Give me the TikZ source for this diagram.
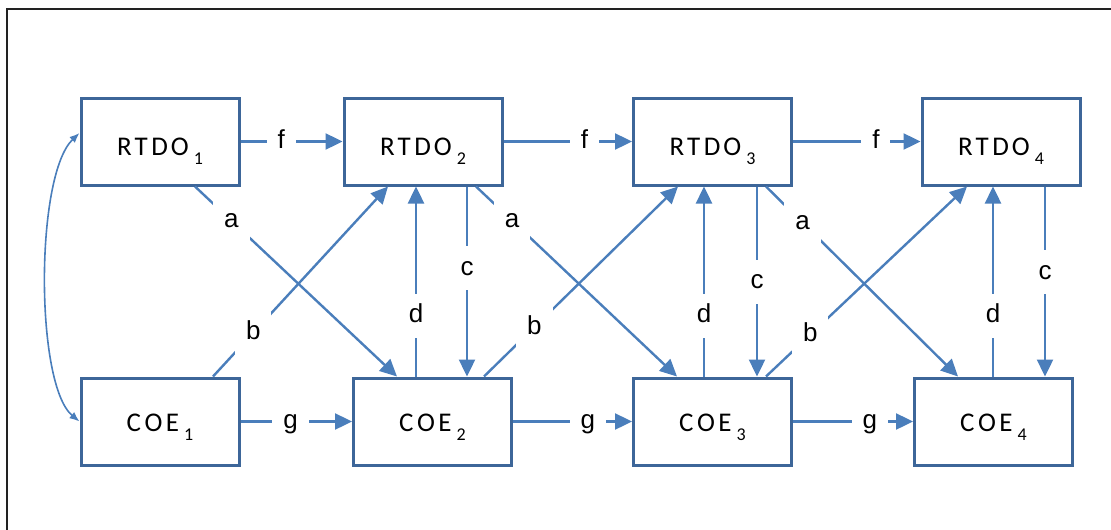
\documentclass[tikz,border=0pt]{standalone}
\usepackage{fontspec}
\setmainfont{Liberation Sans}
\newfontfamily\boxfont{Carlito}
\usetikzlibrary{arrows.meta,calc}
\definecolor{linkblue}{HTML}{4A7EBB}
\definecolor{edgeblue}{HTML}{3D6699}
\definecolor{framegray}{HTML}{222222}

% spaced capitals with a lowered index
\newcommand\idx[1]{\kern5pt\raisebox{-8.5pt}{\fontsize{18}{18}\selectfont #1}}
\newcommand\rtdo[1]{R\kern3pt T\kern3.5pt D\kern3pt O\idx{#1}}
\newcommand\coe[1]{C\kern3.5pt O\kern3.5pt E\idx{#1}}

\begin{document}
\begin{tikzpicture}[x=1pt,y=-1pt,
  statebox/.style={draw=edgeblue, line width=3pt, fill=white,
    minimum width=158pt, minimum height=87pt, inner sep=0pt,
    text depth=0pt, font=\boxfont\fontsize{27}{30}\selectfont},
  rbox/.style={statebox, text height=28pt},
  cbox/.style={statebox, text height=20pt},
  conn/.style={draw=linkblue, line width=2.4pt,
    -{Triangle[length=17pt,width=16pt]}},
  lbl/.style={fill=white, inner xsep=11pt, inner ysep=10pt,
    text height=19pt, text depth=5pt, text=black,
    font=\fontsize{26}{30}\selectfont},
  twoway/.style={draw=linkblue, line width=1.6pt,
    {Latex[length=10pt,width=8pt]}-{Latex[length=10pt,width=8pt]}}
]
\useasboundingbox (0,0) rectangle (1111,530);

% frame
\draw[framegray, line width=1.5pt] (7,530) coordinate (fb) -- (7,9) coordinate (fc) -- (1111,9) coordinate (fr);

% state boxes
\node[rbox] (r1) at (160,141.5)   {\rtdo{1}};
\node[rbox] (r2) at (423,141.5)   {\rtdo{2}};
\node[rbox] (r3) at (712.5,141.5) {\rtdo{3}};
\node[rbox] (r4) at (1001,141.5)  {\rtdo{4}};
\node[cbox] (c1) at (160,421.5)   {\coe{1}};
\node[cbox] (c2) at (432.5,421.5) {\coe{2}};
\node[cbox] (c3) at (712.5,421.5) {\coe{3}};
\node[cbox] (c4) at (993.5,421.5) {\coe{4}};

% horizontal links
\draw[conn] (r1.east) -- node[lbl,pos=0.40]{f} (r2.west);
\draw[conn] (r2.east) -- node[lbl,pos=0.63]{f} (r3.west);
\draw[conn] (r3.east) -- node[lbl,pos=0.65]{f} (r4.west);
\draw[conn] (c1.east) -- node[lbl,pos=0.45]{g} (c2.west);
\draw[conn] (c2.east) -- node[lbl,pos=0.63]{g} (c3.west);
\draw[conn] (c3.east) -- node[lbl,pos=0.64]{g} (c4.west);

% diagonal links, top to bottom
\draw[conn] ([xshift=35pt]r1.south) -- node[lbl,pos=0.18]{a} ([xshift=-35.5pt]c2.north);
\draw[conn] ([xshift=53pt]r2.south) -- node[lbl,pos=0.18]{a} ([xshift=-35.5pt]c3.north);
\draw[conn] ([xshift=53.5pt]r3.south) -- node[lbl,pos=0.19]{a} ([xshift=-35.5pt]c4.north);

% diagonal links, bottom to top
\draw[conn] ([xshift=53pt]c1.north) -- node[lbl,pos=0.23]{b} ([xshift=-35pt]r2.south);
\draw[conn] ([xshift=51.5pt]c2.north) -- node[lbl,pos=0.26]{b} ([xshift=-34.5pt]r3.south);
\draw[conn] ([xshift=53.5pt]c3.north) -- node[lbl,pos=0.22]{b} ([xshift=-34pt]r4.south);

% vertical links down
\draw[conn] ([xshift=44pt]r2.south) -- node[lbl,pos=0.43]{c} ([xshift=44pt]r2.south |- c2.north);
\draw[conn] ([xshift=44.5pt]r3.south) -- node[lbl,pos=0.50]{c} ([xshift=44.5pt]r3.south |- c3.north);
\draw[conn] ([xshift=44pt]r4.south) -- node[lbl,pos=0.45]{c} ([xshift=44pt]r4.south |- c4.north);

% vertical links up
\draw[conn] ([xshift=-16.5pt]c2.north) -- node[lbl,pos=0.32]{d} ([xshift=-16.5pt]c2.north |- r2.south);
\draw[conn] ([xshift=-8.5pt]c3.north) -- node[lbl,pos=0.32]{d} ([xshift=-8.5pt]c3.north |- r3.south);
\draw[conn] ([xshift=-0.5pt]c4.north) -- node[lbl,pos=0.32]{d} ([xshift=-0.5pt]c4.north |- r4.south);

% curved two-way link on the left
\draw[twoway] ([yshift=8.5pt]r1.west) .. controls (35,175) and (35,385) .. (c1.west);
\end{tikzpicture}
\end{document}
